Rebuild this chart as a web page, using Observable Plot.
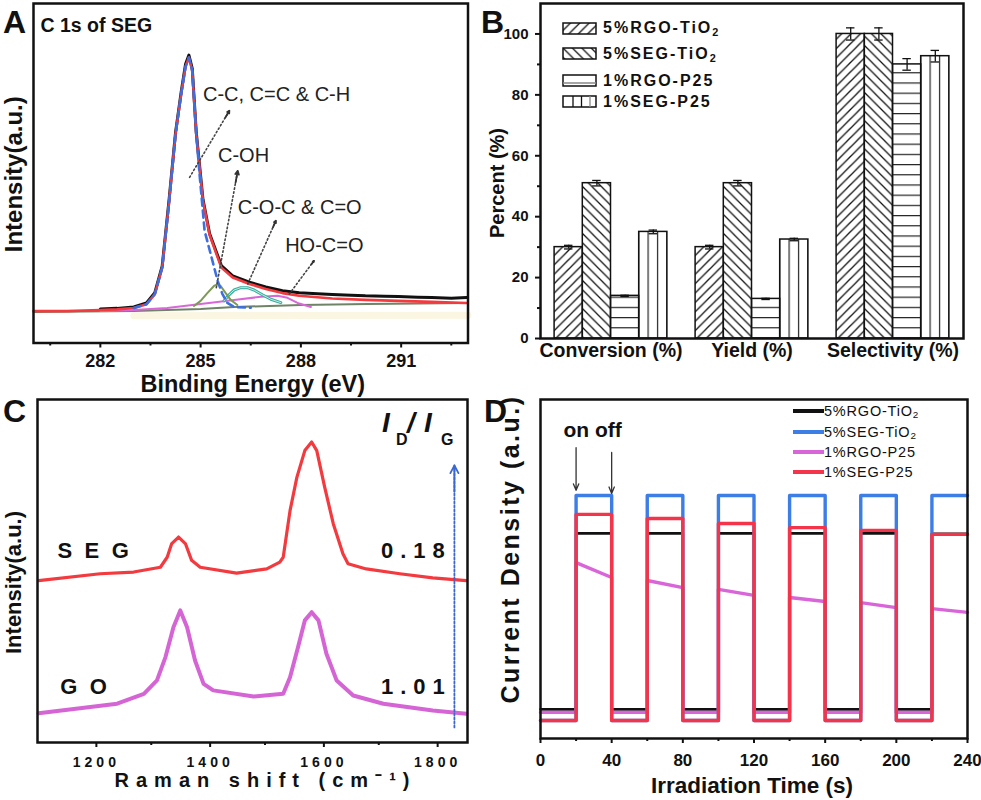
<!DOCTYPE html>
<html><head><meta charset="utf-8">
<script src="https://cdn.jsdelivr.net/npm/d3@7"></script>
<script src="https://cdn.jsdelivr.net/npm/@observablehq/plot@0.6"></script>
<style>
body{margin:0;background:#fff;font-family:"Liberation Sans",Arial,Helvetica,sans-serif;color:#111}
#root{position:relative;width:981px;height:800px;overflow:hidden;background:#fff}
.abs{position:absolute;white-space:nowrap;line-height:1}
.plabel{font-size:32px;font-weight:bold}
svg.pc g[aria-label="x-axis tick label"] text{letter-spacing:4px}
.lgB{font-size:16px;font-weight:bold;letter-spacing:2px}
.lgD{font-size:14.5px;letter-spacing:0.8px}
sub{font-size:0.68em;vertical-align:-0.25em;line-height:0}
</style>
</head><body>
<svg width="0" height="0" style="position:absolute;left:0;top:0">
<defs>
<pattern id="pR5" patternUnits="userSpaceOnUse" width="9.4" height="9.4"><path d="M-1,1 L1,-1 M0,9.4 L9.4,0 M8.4,10.4 L10.4,8.4" stroke="#111" stroke-width="1.3"/></pattern>
<pattern id="pS5" patternUnits="userSpaceOnUse" width="9.4" height="9.4"><path d="M-1,8.4 L1,10.4 M0,0 L9.4,9.4 M8.4,-1 L10.4,1" stroke="#111" stroke-width="1.3"/></pattern>
<pattern id="pR1" patternUnits="userSpaceOnUse" width="10" height="10.2"><path d="M0,0.6 H10" stroke="#222" stroke-width="1.2"/></pattern>
<pattern id="pS1" patternUnits="userSpaceOnUse" width="9.4" height="10"><path d="M0.6,0 V10" stroke="#222" stroke-width="1.2"/></pattern>
</defs></svg>
<div id="root"></div>
<script>
// ---------------- Panel A : XPS C 1s ----------------
const xpsFitE = [280,281,282,282.5,283,283.38,283.63,283.85,284.06,284.25,284.42,284.55,284.65,284.75,284.87,285.07,285.27,285.62,285.96,286.46,286.95,287.45,287.95,288.94,289.93,290.92,291.91,292.96];
const xpsFitV = [9.4,9.4,9.7,9.9,10.3,11.4,14.4,22.2,41.9,61.6,73.5,81.4,84.1,80.2,61.6,41.9,31.8,22.2,19.3,17.4,15.9,14.7,13.9,13.1,12.7,12.4,12.1,11.8];
const xpsRawE = [282,282.5,283,283.38,283.63,283.85,284.06,284.25,284.42,284.55,284.65,284.75,284.87,285.07,285.27,285.62,285.96,286.46,286.95,287.45,287.95,288.5,288.94,289.5,289.93,290.5,290.92,291.5,291.91,292.5,292.96];
const xpsRawV = [10.0,10.2,10.6,11.8,14.8,22.6,42.5,62.0,74.0,82.2,84.8,80.8,62.0,42.3,32.2,22.8,19.8,17.9,16.5,15.4,14.8,14.5,14.3,14.1,13.9,13.8,13.7,13.5,13.4,13.2,13.4];
const xpsCcE = [283,283.38,283.63,283.85,284.06,284.25,284.42,284.55,284.65,284.75,284.87,284.97,285.12,285.33,285.51,285.65,285.8,286.0,286.5];
const xpsCcV = [10.3,11.4,14.4,22.2,41.9,61.6,73.5,81.4,84.1,80.2,61.6,49.5,33.0,25.1,18.3,14.5,11.8,10.6,10.4];
const xpsCohE = [284.8,285.0,285.2,285.4,285.5,285.6,285.75,285.9,286.1];
const xpsCohV = [10.9,12.4,14.7,16.8,17.3,16.8,14.7,12.7,11.2];
const xpsCocE = [285.7,285.85,286.0,286.2,286.4,286.6,286.85,287.1,287.4];
const xpsCocV = [12.4,14.2,15.6,16.3,16.3,15.6,14.2,12.9,11.9];
const xpsHoE = [282,283,284,285,286,286.8,287.3,287.6,287.9,288.3];
const xpsHoV = [9.4,9.7,10.3,11.5,12.7,13.6,13.9,13.3,11.8,10.6];
const xpsBgE = [280,283,285,286,288,290,293];
const xpsBgV = [9.1,9.4,10.0,10.6,11.2,11.5,11.8];
const xpsBandE = [283,293];
const xpsBandV = [8.0,8.2];
const xpsMajorTicks = [282,285,288,291];
const xpsMinorTicks = [280.5,283.5,286.5,289.5,292.5];
const xpsLabels = ["C-C, C=C & C-H","C-OH","C-O-C & C=O","HO-C=O"];
const xpsLabelE = [285.07,285.52,286.11,287.53];
const xpsLabelV = [73.3,55.2,39.8,28.6];
const xpsArrowE1 = [284.67,285.47,286.41,287.65];
const xpsArrowV1 = [48.8,16.3,17.4,14.4];
const xpsArrowE2 = [285.86,286.11,287.25,288.39];
const xpsArrowV2 = [68.4,50.7,36.0,24.2];

// ---------------- Panel B : bars ----------------
const bGroups = ["Conversion (%)","Yield (%)","Selectivity (%)"];
const b5RGO = [30,30,100];     const b5RGOErr = [0.6,0.6,2];
const b5SEG = [51,51,100];     const b5SEGErr = [0.9,0.9,2];
const b1RGO = [14,13,90];      const b1RGOErr = [0.2,0.2,1.9];
const b1SEG = [35,32.5,92.7];  const b1SEGErr = [0.6,0.4,1.9];
const bMajorTicks = [0,20,40,60,80,100];
const bMinorTicks = [10,30,50,70,90];

// ---------------- Panel C : Raman ----------------
const segShift = [1102,1210,1269,1316,1328,1336,1348,1360,1371,1386,1450,1503,1526,1532,1544,1556,1570,1582,1591,1605,1620,1637,1646,1678,1737,1795,1854];
const segInt = [47.2,49.2,49.7,51.1,54.0,58.0,59.9,58.0,53.1,51.1,49.4,50.6,52.6,54.0,67.6,77.3,85.1,87.6,85.1,74.4,63.8,55.0,52.1,50.6,49.2,48.0,47.2];
const goShift = [1102,1240,1287,1310,1325,1339,1351,1363,1377,1392,1409,1480,1532,1544,1558,1570,1582,1594,1608,1626,1655,1708,1795,1854];
const goInt = [8.5,11.3,14.2,18.1,24.9,33.6,38.5,33.6,23.9,17.1,15.2,13.4,14.2,19.0,27.8,35.6,38.0,35.6,25.9,18.1,13.7,11.3,9.3,8.4];
const ramanMajorTicks = [1200,1400,1600,1800];
const ramanMinorTicks = [1300,1500,1700];
const ramanNames = ["SEG","GO"];
const ramanNameX = [1135,1140];
const ramanNameY = [55.9,16.2];
const ramanRatios = ["0.18","1.01"];
const ramanRatioX = [1816,1816];
const ramanArrowX = [1833];
const ramanArrowY1 = [4.4];
const ramanArrowY2 = [80.8];

// ---------------- Panel D : photocurrent ----------------
const dOnStart = [20,60,100,140,180,220];
const dOnEnd = [40,80,120,160,200,240];
const dTimeMax = 240;
const dBlackOff = 8.6, dBlueOff = 5.3, dVioletOff = 7.7, dRedOff = 5.3;
const dBlackOn = [60.5,60.5,60.5,60.5,60.5,60.4];
const dBlueOn = [71.7,71.7,71.7,71.7,71.7,71.7];
const dVioletOnStart = [51.9,46.6,44.0,41.6,40.1,38.3];
const dVioletOnEnd = [47.5,44.5,42.2,40.4,38.6,37.2];
const dRedOn = [66.1,64.9,63.4,62.2,61.4,60.2];
const dMajorTicks = [0,40,80,120,160,200,240];
const dMinorTicks = [20,60,100,140,180,220];
const dArrowT = [20,40];
const dArrowY1 = [85.8,84.4];
const dArrowY2 = [73.2,72.3];

const FONT = '"Liberation Sans", Arial, Helvetica, sans-serif';
const root = document.getElementById("root");
function put(el, left, top){ el.style.position="absolute"; el.style.left=left+"px"; el.style.top=top+"px"; root.appendChild(el); return el; }
function html(str, left, top, cls, style){ const d=document.createElement("div"); d.className="abs "+(cls||""); d.innerHTML=str; if(style) d.style.cssText+=style; return put(d,left,top); }
function spaceTexts(svg, strings, px){ svg.querySelectorAll("text").forEach(t => { if (strings.includes(t.textContent)) t.style.letterSpacing = px + "px"; }); }
const tipStart = (a1, a2) => a2.map((v,i) => v - 0.1*(v - a1[i]));
const idx = a => a.map((_,i)=>i);

// ---------- A ----------
const chartA = Plot.plot({
  width: 490, height: 400, marginLeft: 33, marginRight: 22.5, marginTop: 3, marginBottom: 57.5,
  x: {domain: [280, 293]}, y: {domain: [0, 100], axis: null},
  style: {fontFamily: FONT, background: "transparent", overflow: "visible", color: "#111"},
  marks: [
    Plot.line(d3.zip(xpsBandE, xpsBandV), {stroke: "#faf6e2", strokeWidth: 7}),
    Plot.line(d3.zip(xpsBgE, xpsBgV), {stroke: "#6f8466", strokeWidth: 2}),
    Plot.line(d3.zip(xpsHoE, xpsHoV), {stroke: "#d868d8", strokeWidth: 2}),
    Plot.line(d3.zip(xpsCocE, xpsCocV), {stroke: "#38b0a0", strokeWidth: 3}),
    Plot.line(d3.zip(xpsCocE, xpsCocV), {stroke: "#e6faf6", strokeWidth: 0.8}),
    Plot.line(d3.zip(xpsCohE, xpsCohV), {stroke: "#7d9a55", strokeWidth: 2}),
    Plot.line(d3.zip(xpsRawE, xpsRawV), {stroke: "#111", strokeWidth: 3}),
    Plot.line(d3.zip(xpsFitE, xpsFitV), {stroke: "#f23a3f", strokeWidth: 2.6}),
    Plot.line(d3.zip(xpsCcE, xpsCcV), {stroke: "#3d6fe0", strokeWidth: 2.6, strokeDasharray: "7,5"}),
    Plot.arrow(idx(xpsLabels), {x1: xpsArrowE1, y1: xpsArrowV1, x2: xpsArrowE2, y2: xpsArrowV2, stroke: "#444", strokeWidth: 1.6, strokeDasharray: "1.5,2.5", headLength: 0}),
    Plot.arrow(idx(xpsLabels), {x1: tipStart(xpsArrowE1, xpsArrowE2), y1: tipStart(xpsArrowV1, xpsArrowV2), x2: xpsArrowE2, y2: xpsArrowV2, stroke: "#333", strokeWidth: 1.8, headLength: 8, headAngle: 55}),
    Plot.text(xpsLabels, {x: xpsLabelE, y: xpsLabelV, text: d => d, textAnchor: "start", lineAnchor: "middle", fontSize: 20, fill: "#222"}),
    Plot.text(["C 1s of SEG"], {frameAnchor: "top-left", text: d => d, textAnchor: "start", lineAnchor: "middle", dx: 7, dy: 22, fontSize: 19.5, fontWeight: "bold"}),
    Plot.text(["Binding Energy (eV)"], {frameAnchor: "bottom", text: d => d, textAnchor: "middle", lineAnchor: "middle", dx: 2, dy: 41.5, fontSize: 23.5, fontWeight: "bold"}),
    Plot.text(["Intensity(a.u.)"], {frameAnchor: "left", text: d => d, rotate: -90, textAnchor: "middle", lineAnchor: "middle", dx: -19, dy: 1, fontSize: 24, fontWeight: "bold"}),
    Plot.frame({stroke: "#111", strokeWidth: 2.5}),
    Plot.axisX({ticks: xpsMajorTicks, tickSize: 5, tickPadding: 6.5, fontSize: 18, fontWeight: "bold", label: null, strokeWidth: 2}),
    Plot.axisX({ticks: xpsMinorTicks, tickSize: 3, tickFormat: () => "", label: null, strokeWidth: 2})
  ]
});
put(chartA, 0, 0);

// ---------- B ----------
const bVals = [b5RGO, b5SEG, b1RGO, b1SEG];
const bErrs = [b5RGOErr, b5SEGErr, b1RGOErr, b1SEGErr];
const bFills = ["url(#pR5)", "url(#pS5)", "url(#pR1)", "url(#pS1)"];
const barW = 0.2;
const bRows = [];
bGroups.forEach((g, gi) => bVals.forEach((vals, si) => bRows.push({g: gi, s: si, v: vals[gi], e: bErrs[si][gi]})));
const bx1 = d => d.g + (d.s - 2) * barW;
const bxc = d => bx1(d) + barW / 2;
const chartB = Plot.plot({
  width: 491, height: 400, marginLeft: 50, marginRight: 18, marginTop: 3, marginBottom: 62,
  x: {domain: [-0.5, 2.5]}, y: {domain: [0, 110]},
  style: {fontFamily: FONT, background: "transparent", overflow: "visible", color: "#111"},
  marks: [
    ...bFills.map((f, si) => Plot.rect(bRows.filter(d => d.s === si), {x1: bx1, x2: d => bx1(d) + barW, y1: () => 0, y2: d => d.v, fill: f, stroke: "#111", strokeWidth: 1.5})),
    Plot.ruleX(bRows, {x: bxc, y1: d => d.v - d.e, y2: d => d.v + d.e, stroke: "#111", strokeWidth: 1.3}),
    Plot.ruleY(bRows, {y: d => d.v + d.e, x1: d => bxc(d) - 0.03, x2: d => bxc(d) + 0.03, stroke: "#111", strokeWidth: 1.3}),
    Plot.ruleY(bRows, {y: d => d.v - d.e, x1: d => bxc(d) - 0.03, x2: d => bxc(d) + 0.03, stroke: "#111", strokeWidth: 1.3}),
    Plot.text(["Percent (%)"], {frameAnchor: "left", text: d => d, rotate: -90, textAnchor: "middle", lineAnchor: "middle", dx: -43, dy: 12, fontSize: 20, fontWeight: "bold"}),
    Plot.frame({stroke: "#111", strokeWidth: 2.5}),
    Plot.axisY({ticks: bMajorTicks, tickSize: 5, tickPadding: 7, fontSize: 15, fontWeight: "bold", label: null, strokeWidth: 2}),
    Plot.axisY({ticks: bMinorTicks, tickSize: 3, tickFormat: () => "", label: null, strokeWidth: 2}),
    Plot.axisX({ticks: [0, 1, 2], tickFormat: i => bGroups[i], tickSize: 0, tickPadding: 5, fontSize: 19.5, fontWeight: "bold", label: null})
  ]
});
put(chartB, 490, 0);
{
  const sx = chartB.scale("x"), sy = chartB.scale("y");
  const step = sx.apply(1) - sx.apply(0);
  const pS1 = document.getElementById("pS1");
  pS1.setAttribute("width", step / 15);
  pS1.setAttribute("x", sx.apply(0.2) - 0.6);
  const pR1 = document.getElementById("pR1");
  pR1.setAttribute("y", sy.apply(0) - 0.6);
}
// legend B
const bLegend = [["5%RGO-TiO<sub>2</sub>", "pR5"], ["5%SEG-TiO<sub>2</sub>", "pS5"], ["1%RGO-P25", "h"], ["1%SEG-P25", "v"]];
const bLegendY = [28, 53.7, 80.7, 101.3];
bLegend.forEach(([lab, kind], i) => {
  const c = bLegendY[i];
  let inner = "";
  if (kind === "pR5" || kind === "pS5") inner = `<rect x="1" y="1" width="33" height="11" fill="url(#${kind})" stroke="#111" stroke-width="1.5"/>`;
  else if (kind === "h") inner = `<rect x="1" y="1" width="33" height="11" fill="#fff" stroke="#111" stroke-width="1.5"/><line x1="1" x2="34" y1="9" y2="9" stroke="#888" stroke-width="1.3"/>`;
  else inner = `<rect x="1" y="1" width="33" height="11" fill="#fff" stroke="#111" stroke-width="1.5"/><line x1="11" x2="11" y1="1" y2="12" stroke="#111" stroke-width="1.3"/><line x1="19.5" x2="19.5" y1="1" y2="12" stroke="#111" stroke-width="1.3"/><line x1="28" x2="28" y1="1" y2="12" stroke="#888" stroke-width="1.3"/>`;
  const sw = document.createElementNS("http://www.w3.org/2000/svg", "svg");
  sw.setAttribute("width", 35); sw.setAttribute("height", 13);
  sw.innerHTML = inner;
  put(sw, 562, c - 6.5);
  html(lab, 603, c - 7.8, "lgB");
});

// ---------- C ----------
const chartC = Plot.plot({
  width: 490, height: 400, marginLeft: 37, marginRight: 23, marginTop: 4, marginBottom: 53,
  className: "pc",
  x: {domain: [1100, 1856]}, y: {domain: [0, 100], axis: null},
  style: {fontFamily: FONT, background: "transparent", overflow: "visible", color: "#111"},
  marks: [
    Plot.line(d3.zip(segShift, segInt), {stroke: "#f23a3f", strokeWidth: 3.2}),
    Plot.line(d3.zip(goShift, goInt), {stroke: "#d565d5", strokeWidth: 4}),
    Plot.text(ramanNames, {x: ramanNameX, y: ramanNameY, text: d => d, textAnchor: "start", lineAnchor: "middle", fontSize: 22, fontWeight: "bold"}),
    Plot.text(ramanRatios, {x: ramanRatioX, y: ramanNameY, text: d => d, textAnchor: "end", lineAnchor: "middle", dx: 7, fontSize: 22, fontWeight: "bold"}),
    Plot.arrow(ramanArrowX, {x1: ramanArrowX, x2: ramanArrowX, y1: ramanArrowY1, y2: ramanArrowY2, stroke: "#3a68d0", strokeWidth: 1.8, strokeDasharray: "2,2", headLength: 0}),
    Plot.arrow(ramanArrowX, {x1: ramanArrowX, x2: ramanArrowX, y1: tipStart(ramanArrowY1, ramanArrowY2), y2: ramanArrowY2, stroke: "#3a68d0", strokeWidth: 1.8, headLength: 8, headAngle: 55}),
    Plot.text(["Raman shift (cm⁻¹)"], {frameAnchor: "bottom", text: d => d, textAnchor: "middle", lineAnchor: "middle", dx: 13, dy: 38, fontSize: 20, fontWeight: "bold"}),
    Plot.text(["Intensity(a.u.)"], {frameAnchor: "left", text: d => d, rotate: -90, textAnchor: "middle", lineAnchor: "middle", dx: -24, dy: 11.5, fontSize: 22, fontWeight: "bold"}),
    Plot.frame({stroke: "#111", strokeWidth: 2.5}),
    Plot.axisX({ticks: ramanMajorTicks, tickFormat: d3.format("d"), tickSize: 5, tickPadding: 9.5, dx: 2, fontSize: 14, fontWeight: "bold", label: null, strokeWidth: 2}),
    Plot.axisX({ticks: ramanMinorTicks, tickSize: 3, tickFormat: () => "", label: null, strokeWidth: 2})
  ]
});
put(chartC, 0, 395);
spaceTexts(chartC, ramanNames, 12.5);
spaceTexts(chartC, ramanRatios, 7);
spaceTexts(chartC, ["Raman shift (cm⁻¹)"], 7);
// I_D / I_G
html("I", 382, 409.3, "", "font-size:28px;font-weight:bold;font-style:italic");
html("D", 396, 431.5, "", "font-size:16px;font-weight:bold");
html("/", 407, 409.3, "", "font-size:28px;font-weight:bold;font-style:italic");
html("I", 424, 409.3, "", "font-size:28px;font-weight:bold;font-style:italic");
html("G", 441, 431.5, "", "font-size:16px;font-weight:bold");

// ---------- D ----------
function stepSeries(off, onA, onB) {
  const pts = [[0, off]];
  dOnStart.forEach((t0, i) => {
    const t1 = dOnEnd[i];
    pts.push([t0, off], [t0, onA[i]], [t1, onB[i]]);
    if (t1 < dTimeMax) pts.push([t1, off]);
  });
  return pts;
}
const chartD = Plot.plot({
  width: 491, height: 405, marginLeft: 50, marginRight: 14, marginTop: 4, marginBottom: 62,
  x: {domain: [0, 240]}, y: {domain: [0, 100], axis: null},
  style: {fontFamily: FONT, background: "transparent", overflow: "visible", color: "#111"},
  marks: [
    Plot.line(stepSeries(dBlackOff, dBlackOn, dBlackOn), {stroke: "#111", strokeWidth: 2.6}),
    Plot.line(stepSeries(dVioletOff, dVioletOnStart, dVioletOnEnd), {stroke: "#d866d8", strokeWidth: 3.4}),
    Plot.line(stepSeries(dBlueOff, dBlueOn, dBlueOn), {stroke: "#3d7ee6", strokeWidth: 3.4}),
    Plot.line(stepSeries(dRedOff, dRedOn, dRedOn), {stroke: "#f4344a", strokeWidth: 3.4}),
    Plot.arrow(dArrowT, {x1: dArrowT, x2: dArrowT, y1: dArrowY1, y2: dArrowY2, stroke: "#333", strokeWidth: 1.3, headLength: 8, headAngle: 45}),
    Plot.text(["on off"], {x: [12.9], y: [90.9], text: d => d, textAnchor: "start", lineAnchor: "middle", fontSize: 21, fontWeight: "bold"}),
    Plot.text(["Irradiation Time (s)"], {frameAnchor: "bottom", text: d => d, textAnchor: "middle", lineAnchor: "middle", dx: -2, dy: 47, fontSize: 22.5, fontWeight: "bold"}),
    Plot.text(["Current Density (a.u.)"], {frameAnchor: "left", text: d => d, rotate: -90, textAnchor: "middle", lineAnchor: "middle", dx: -30, dy: -20, fontSize: 25, fontWeight: "bold"}),
    Plot.frame({stroke: "#111", strokeWidth: 2.5}),
    Plot.axisX({ticks: dMajorTicks, tickSize: 5, tickPadding: 10, fontSize: 17, fontWeight: "bold", label: null, strokeWidth: 2}),
    Plot.axisX({ticks: dMinorTicks, tickSize: 3, tickFormat: () => "", label: null, strokeWidth: 2})
  ]
});
put(chartD, 490, 395);
spaceTexts(chartD, ["Current Density (a.u.)"], 2.5);
// legend D
const dLegendNames = ["5%RGO-TiO<sub>2</sub>", "5%SEG-TiO<sub>2</sub>", "1%RGO-P25", "1%SEG-P25"];
const dLegendColors = ["#111", "#3d7ee6", "#d866d8", "#f4344a"];
const dLegendY = [411, 432, 452, 472];
dLegendNames.forEach((n, i) => {
  const c = dLegendY[i];
  html("", 793, c - 1.75, "", `width:31px;height:3.5px;background:${dLegendColors[i]}`);
  html(n, 824, c - 7.1, "lgD");
});

// panel letters
html("A", 3, 6, "plabel");
html("B", 481, 6, "plabel");
html("C", 3, 395, "plabel");
html("D", 484, 395, "plabel");
</script>
</body></html>
